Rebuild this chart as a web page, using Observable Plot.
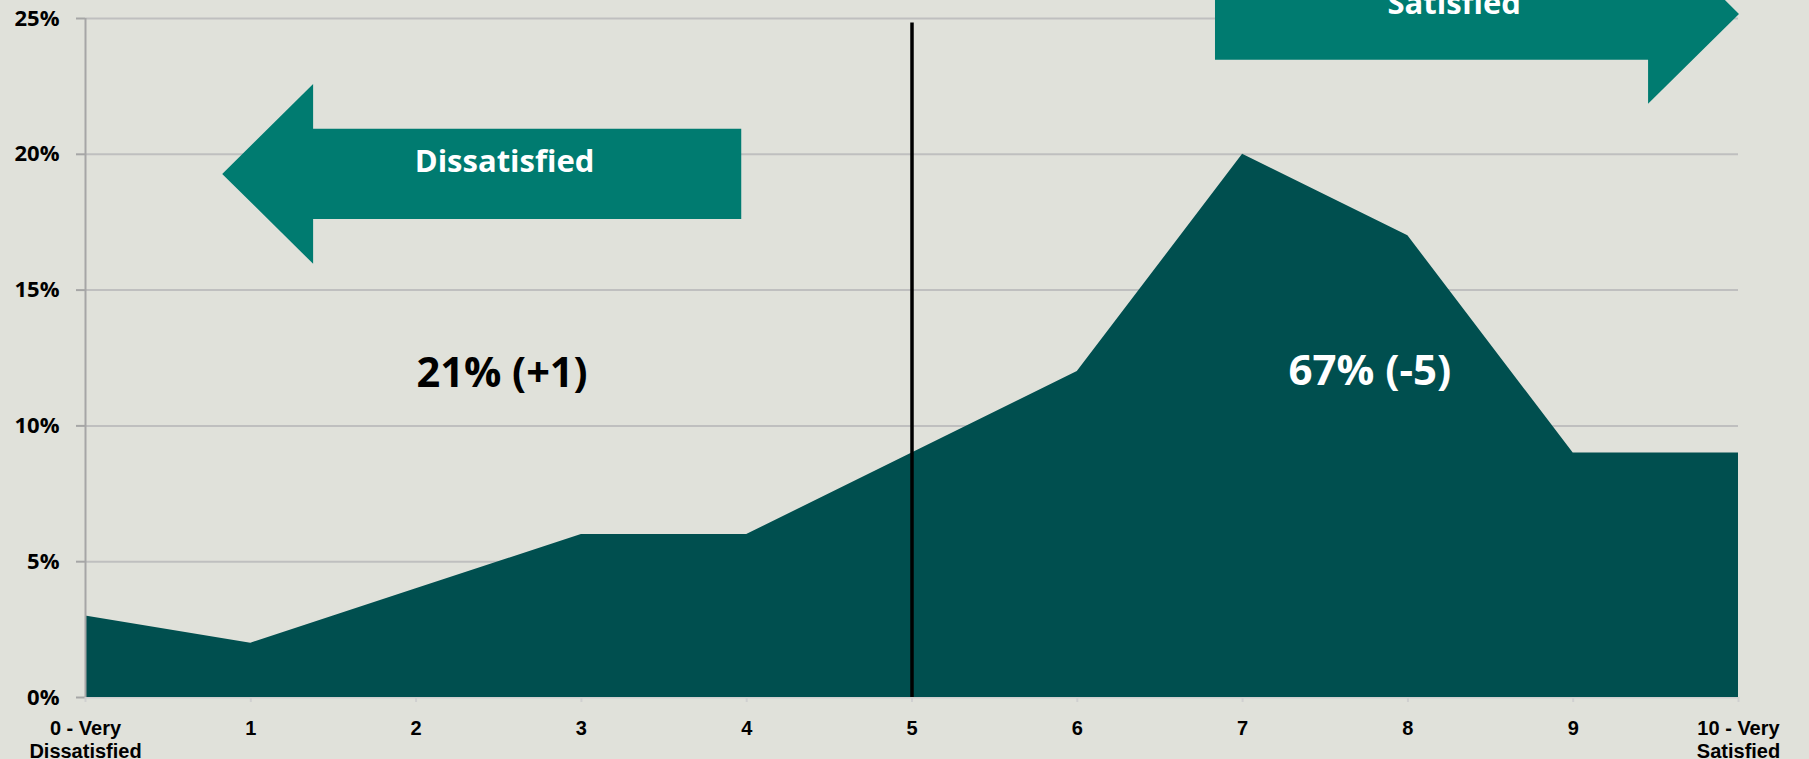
<!DOCTYPE html>
<html>
<head>
<meta charset="utf-8">
<script src="https://cdn.jsdelivr.net/npm/d3@7"></script>
<script src="https://cdn.jsdelivr.net/npm/@observablehq/plot@0.6"></script>
<style>
  html, body { margin: 0; padding: 0; background: #e0e1da; overflow: hidden; }
  svg { display: block; }
</style>
</head>
<body>
<div id="chart"></div>
<script>
// Satisfaction score (0–10) and share of respondents (%)
const scores = [0, 1, 2, 3, 4, 5, 6, 7, 8, 9, 10];
const shares = [3, 2, 4, 6, 6, 9, 12, 20, 17, 9, 9];
const xTickLabels = ["0 - Very\nDissatisfied", "1", "2", "3", "4", "5", "6", "7", "8", "9", "10 - Very\nSatisfied"];
const yTicks = [0, 5, 10, 15, 20, 25];
const dividerScore = 5;
const groupLabels = ["21% (+1)", "67% (-5)"];
const arrowLabels = ["Dissatisfied", "Satisfied"];

// Block-arrow annotations, in data units (score, %)
const leftArrow = {tip: 0.83, neck: 1.38, tail: 3.97, center: 19.26, head: 3.31, shaft: 1.66};
const rightArrow = {tip: 10.006, neck: 9.456, tail: 6.836, center: 25.15, head: 3.31, shaft: 1.69};

function arrowPoints(a) {
  return [
    {x: a.tip, lo: a.center, hi: a.center},
    {x: a.neck, lo: a.center - a.head, hi: a.center + a.head},
    {x: a.neck, lo: a.center - a.shaft, hi: a.center + a.shaft},
    {x: a.tail, lo: a.center - a.shaft, hi: a.center + a.shaft}
  ];
}

const data = scores.map((s, i) => ({score: s, share: shares[i]}));

const calibri = "'Open Sans', Lato, sans-serif";
const arial = "'Liberation Sans', Arial, sans-serif";
const teal = "#004f4f";
const arrowTeal = "#007b70";

const chart = Plot.plot({
  width: 1809,
  height: 759,
  marginTop: 18,
  marginBottom: 62,
  marginLeft: 85,
  marginRight: 71,
  style: {background: "#e0e1da", overflow: "hidden"},
  x: {domain: [0, 10]},
  y: {domain: [0, 25]},
  marks: [
    Plot.ruleY(yTicks.filter(d => d > 0), {stroke: "#bfbfbf", strokeWidth: 2}),
    Plot.ruleY([0], {stroke: "#cfcfcf", strokeWidth: 2}),
    Plot.areaY(data, {x: "score", y: "share", fill: teal, curve: "linear"}),
    Plot.area(arrowPoints(leftArrow), {x1: "x", y1: "lo", y2: "hi", fill: arrowTeal, curve: "linear"}),
    Plot.area(arrowPoints(rightArrow), {x1: "x", y1: "lo", y2: "hi", fill: arrowTeal, curve: "linear"}),
    Plot.ruleX([dividerScore], {y1: 0, y2: 24.83, stroke: "black", strokeWidth: 3.5}),
    Plot.ruleX([0], {y1: 0, y2: 25, stroke: "#a6a6a6", strokeWidth: 2}),
    Plot.text([arrowLabels[0]], {x: 2.535, y: leftArrow.center, text: d => d, dy: -2, lineAnchor: "bottom", fill: "white", fontSize: 31, fontWeight: "bold", fontFamily: calibri}),
    Plot.text([arrowLabels[1]], {x: 8.28, y: rightArrow.center, text: d => d, dy: 0, lineAnchor: "bottom", fill: "white", fontSize: 31, fontWeight: "bold", fontFamily: calibri}),
    Plot.text([groupLabels[0]], {x: 2.52, y: 11.45, text: d => d, lineAnchor: "bottom", fill: "black", fontSize: 41.5, fontWeight: "bold", fontFamily: calibri}),
    Plot.text([groupLabels[1]], {x: 7.77, y: 11.49, text: d => d, lineAnchor: "bottom", fill: "white", fontSize: 42, fontWeight: "bold", fontFamily: calibri}),
    Plot.axisY({ticks: yTicks, tickFormat: d => d + "%", tickSize: 9, tickPadding: 17, stroke: "#a6a6a6", strokeWidth: 2, fill: "black", fontSize: 22, fontWeight: "bold", fontFamily: calibri, label: null}),
    Plot.axisX({ticks: scores, tickFormat: d => xTickLabels[d], tickSize: 5, tickPadding: 16, stroke: "#d0d0d0", strokeWidth: 2, fill: "black", fontSize: 20, fontWeight: "bold", fontFamily: arial, lineHeight: 1.15, label: null})
  ]
});
document.getElementById("chart").appendChild(chart);
</script>
</body>
</html>
